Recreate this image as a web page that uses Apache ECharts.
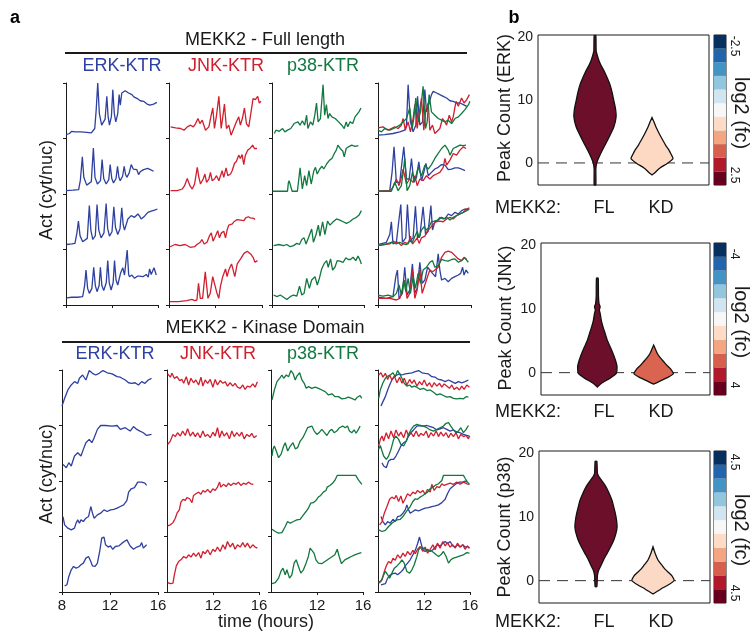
<!DOCTYPE html>
<html>
<head>
<meta charset="utf-8">
<title>MEKK2 KTR traces and peak counts</title>
<script src="https://cdn.jsdelivr.net/npm/echarts@6/dist/echarts.min.js"></script>
<style>
  html, body { margin: 0; background: #fff; }
  #chart { width: 750px; height: 637px; }
</style>
</head>
<body>
<div id="chart"></div>
<script>
// ---------- panel a data: [time (h), activity scaled to its row] ----------
// MEKK2 full length
const flErk = [
  [[8.0,0.07],[8.3,0.09],[8.5,0.13],[8.8,0.12],[9.3,0.12],[9.8,0.11],[10.2,0.10],[10.5,0.18],[10.62,0.5],[10.76,1.0],[10.9,0.45],[11.1,0.24],[11.4,0.35],[11.55,0.76],[11.66,0.4],[11.78,0.24],[11.95,0.4],[12.07,0.88],[12.2,0.45],[12.33,0.3],[12.5,0.45],[12.62,0.79],[12.72,0.6],[12.85,0.82],[13.0,0.8],[13.15,0.86],[13.3,0.83],[13.44,0.82],[13.6,0.8],[13.73,0.79],[13.9,0.75],[14.02,0.73],[14.2,0.72],[14.31,0.7],[14.45,0.68],[14.6,0.65],[14.75,0.67],[14.89,0.66],[15.05,0.62],[15.18,0.62],[15.3,0.6],[15.47,0.59],[15.62,0.62],[15.76,0.62],[15.9,0.65]],
  [[8.0,0.06],[8.6,0.07],[9.1,0.08],[9.25,0.25],[9.42,0.67],[9.55,0.3],[9.8,0.16],[10.2,0.22],[10.38,0.83],[10.52,0.3],[10.73,0.18],[11.0,0.24],[11.14,0.62],[11.28,0.28],[11.49,0.18],[11.72,0.26],[11.84,0.53],[11.98,0.28],[12.13,0.2],[12.35,0.28],[12.48,0.5],[12.6,0.3],[12.71,0.24],[12.92,0.32],[13.06,0.5],[13.18,0.35],[13.29,0.3],[13.5,0.38],[13.67,0.53],[13.85,0.45],[14.02,0.42],[14.15,0.44],[14.31,0.35],[14.45,0.4],[14.6,0.42],[14.75,0.44],[14.89,0.45],[15.1,0.46],[15.33,0.44],[15.62,0.41]],
  [[8.06,0.09],[8.5,0.1],[8.78,0.11],[8.95,0.3],[9.08,0.51],[9.22,0.25],[9.45,0.14],[9.85,0.2],[10.03,0.79],[10.16,0.35],[10.33,0.18],[10.55,0.25],[10.7,0.81],[10.85,0.35],[11.05,0.21],[11.3,0.3],[11.49,0.83],[11.62,0.38],[11.78,0.24],[12.0,0.32],[12.16,0.77],[12.3,0.4],[12.5,0.27],[12.7,0.38],[12.85,0.75],[12.97,0.45],[13.09,0.35],[13.38,0.55],[13.67,0.61],[13.96,0.58],[14.25,0.64],[14.4,0.6],[14.54,0.55],[14.83,0.6],[15.12,0.67],[15.41,0.69],[15.7,0.71],[15.95,0.73]],
  [[8.06,0.13],[8.5,0.14],[9.0,0.14],[9.45,0.15],[9.62,0.35],[9.74,0.63],[9.88,0.3],[10.03,0.21],[10.25,0.3],[10.41,0.68],[10.55,0.35],[10.7,0.24],[10.88,0.35],[10.99,0.68],[11.12,0.35],[11.28,0.26],[11.5,0.4],[11.63,0.8],[11.76,0.4],[11.92,0.27],[12.1,0.4],[12.22,0.8],[12.35,0.45],[12.5,0.36],[12.74,0.57],[12.94,0.67],[13.09,0.54],[13.32,0.99],[13.45,0.55],[13.52,0.51],[13.73,0.54],[13.96,0.48],[14.2,0.52],[14.4,0.52],[14.69,0.51],[14.98,0.55],[15.15,0.5],[15.27,0.65],[15.41,0.55],[15.65,0.67],[15.85,0.54]]
];
const flJnk = [
  [[8.14,0.21],[8.57,0.19],[9.0,0.18],[9.29,0.15],[9.57,0.21],[9.86,0.24],[10.09,0.21],[10.29,0.27],[10.49,0.36],[10.66,0.27],[10.86,0.33],[11.0,0.24],[11.14,0.15],[11.43,0.21],[11.63,0.42],[11.77,0.55],[11.91,0.18],[12.09,0.42],[12.29,0.76],[12.49,0.18],[12.63,0.39],[12.77,0.62],[12.94,0.18],[13.14,0.24],[13.34,0.06],[13.57,0.18],[13.8,0.3],[14.0,0.39],[14.14,0.24],[14.31,0.36],[14.49,0.55],[14.66,0.27],[14.86,0.21],[15.06,0.48],[15.23,0.72],[15.43,0.7],[15.63,0.76],[15.77,0.64],[15.91,0.67]],
  [[8.14,0.06],[8.71,0.06],[9.14,0.09],[9.34,0.15],[9.57,0.28],[9.8,0.15],[10.0,0.09],[10.2,0.18],[10.43,0.48],[10.57,0.3],[10.71,0.18],[10.94,0.27],[11.09,0.36],[11.23,0.21],[11.43,0.27],[11.57,0.39],[11.71,0.24],[11.91,0.27],[12.09,0.33],[12.29,0.24],[12.57,0.42],[12.71,0.3],[12.91,0.47],[13.06,0.33],[13.29,0.36],[13.43,0.42],[13.63,0.55],[13.8,0.59],[14.0,0.7],[14.14,0.64],[14.29,0.71],[14.43,0.53],[14.57,0.7],[14.77,0.79],[15.0,0.83],[15.2,0.88],[15.34,0.82],[15.57,0.82]],
  [[8.09,0.05],[8.52,0.09],[8.95,0.07],[9.39,0.09],[9.82,0.04],[10.2,0.05],[10.4,0.09],[10.69,0.13],[10.83,0.18],[11.03,0.1],[11.27,0.13],[11.47,0.24],[11.64,0.3],[11.79,0.15],[11.99,0.24],[12.19,0.34],[12.34,0.21],[12.51,0.3],[12.71,0.33],[12.86,0.21],[13.0,0.35],[13.14,0.44],[13.29,0.47],[13.45,0.46],[13.58,0.5],[13.72,0.48],[13.87,0.54],[14.0,0.51],[14.16,0.53],[14.3,0.55],[14.45,0.52],[14.59,0.57],[14.7,0.56],[14.82,0.59],[15.0,0.57],[15.17,0.54],[15.3,0.56],[15.4,0.54]],
  [[8.09,0.06],[8.81,0.06],[9.53,0.08],[9.97,0.1],[10.2,0.08],[10.4,0.09],[10.54,0.39],[10.69,0.12],[10.89,0.12],[11.12,0.6],[11.35,0.12],[11.55,0.21],[11.76,0.51],[11.93,0.52],[12.13,0.21],[12.28,0.12],[12.42,0.33],[12.62,0.51],[12.86,0.65],[13.0,0.51],[13.14,0.63],[13.38,0.74],[13.52,0.63],[13.66,0.51],[13.87,0.74],[14.16,0.83],[14.45,0.93],[14.73,0.97],[15.02,0.92],[15.23,0.86],[15.4,0.77],[15.61,0.8]]
];
const flP38 = [
  [[8.2,0.09],[8.34,0.15],[8.63,0.13],[8.92,0.18],[9.12,0.12],[9.35,0.15],[9.63,0.18],[9.92,0.27],[10.06,0.24],[10.26,0.3],[10.44,0.24],[10.64,0.32],[10.84,0.24],[11.01,0.42],[11.12,0.18],[11.35,0.3],[11.55,0.24],[11.72,0.42],[11.87,0.64],[12.01,0.3],[12.21,0.36],[12.44,0.97],[12.58,0.42],[12.73,0.61],[12.87,0.36],[13.01,0.45],[13.21,0.39],[13.5,0.36],[13.79,0.3],[14.07,0.24],[14.28,0.18],[14.45,0.3],[14.59,0.21],[14.79,0.3],[15.02,0.27],[15.22,0.39],[15.36,0.36],[15.56,0.48],[15.74,0.55]],
  [[8.06,0.05],[9.35,0.05],[9.42,0.2],[9.49,0.24],[9.63,0.27],[9.75,0.05],[10.21,0.05],[10.44,0.47],[10.64,0.09],[10.84,0.33],[11.01,0.15],[11.21,0.42],[11.41,0.18],[11.64,0.42],[11.78,0.48],[11.93,0.36],[12.15,0.45],[12.35,0.5],[12.5,0.45],[12.78,0.55],[13.01,0.61],[13.21,0.64],[13.42,0.73],[13.59,0.79],[13.73,0.88],[13.93,0.82],[14.16,0.77],[14.28,0.67],[14.45,0.82],[14.65,0.85],[14.93,0.88],[15.22,0.86],[15.51,0.87]],
  [[8.14,0.07],[8.58,0.09],[9.01,0.07],[9.29,0.09],[9.58,0.05],[9.87,0.07],[10.16,0.11],[10.39,0.09],[10.59,0.18],[10.79,0.21],[10.96,0.1],[11.17,0.21],[11.45,0.37],[11.6,0.13],[11.83,0.27],[12.03,0.44],[12.17,0.24],[12.4,0.5],[12.6,0.27],[12.83,0.51],[13.04,0.44],[13.32,0.5],[13.61,0.55],[13.9,0.53],[14.19,0.5],[14.47,0.47],[14.76,0.5],[15.05,0.55],[15.34,0.58],[15.57,0.62],[15.77,0.7]],
  [[8.14,0.18],[8.43,0.15],[8.72,0.18],[9.01,0.14],[9.29,0.1],[9.58,0.15],[9.87,0.18],[10.16,0.16],[10.39,0.34],[10.59,0.18],[10.79,0.21],[11.02,0.48],[11.25,0.3],[11.45,0.45],[11.74,0.51],[11.94,0.36],[12.12,0.48],[12.32,0.65],[12.52,0.74],[12.75,0.8],[12.89,0.68],[13.09,0.83],[13.27,0.63],[13.47,0.68],[13.67,0.8],[13.9,0.79],[14.19,0.77],[14.42,0.85],[14.62,0.82],[14.82,0.82],[15.05,0.86],[15.28,0.8],[15.48,0.88],[15.63,0.82],[15.77,0.74]]
];
// merged column, same cells, one array per reporter
const flMergeErk = [
  [[8.0,0.06],[8.58,0.07],[9.29,0.09],[9.87,0.12],[10.3,0.15],[10.45,0.24],[10.59,0.97],[10.79,0.3],[11.02,0.12],[11.25,0.24],[11.4,0.76],[11.6,0.24],[11.83,0.3],[12.03,0.88],[12.17,0.48],[12.4,0.64],[12.6,0.79],[12.75,0.85],[13.04,0.82],[13.32,0.79],[13.61,0.76],[13.9,0.73],[14.19,0.68],[14.47,0.67],[14.76,0.64],[15.05,0.64],[15.34,0.61],[15.63,0.58]],
  [[8.0,0.05],[9.01,0.06],[9.21,0.39],[9.38,0.85],[9.58,0.21],[9.87,0.21],[10.01,0.48],[10.22,0.85],[10.45,0.27],[10.68,0.27],[10.88,0.64],[11.08,0.21],[11.31,0.3],[11.51,0.58],[11.74,0.24],[11.94,0.39],[12.12,0.55],[12.32,0.33],[12.6,0.39],[12.89,0.45],[13.18,0.48],[13.47,0.53],[13.76,0.52],[14.04,0.44],[14.33,0.45],[14.62,0.47],[14.91,0.47],[15.19,0.45],[15.48,0.42]],
  [[8.0,0.09],[8.72,0.13],[9.01,0.27],[9.15,0.5],[9.29,0.1],[9.58,0.13],[9.81,0.55],[9.96,0.81],[10.1,0.13],[10.39,0.21],[10.53,0.81],[10.73,0.15],[11.02,0.21],[11.22,0.78],[11.4,0.21],[11.6,0.24],[11.88,0.77],[12.09,0.27],[12.32,0.33],[12.55,0.79],[12.69,0.35],[12.89,0.5],[13.18,0.53],[13.47,0.58],[13.76,0.55],[14.04,0.64],[14.33,0.61],[14.62,0.67],[14.91,0.64],[15.19,0.7],[15.48,0.73],[15.77,0.72]],
  [[8.0,0.14],[8.72,0.12],[9.29,0.15],[9.53,0.51],[9.67,0.63],[9.81,0.12],[10.1,0.21],[10.3,0.68],[10.5,0.18],[10.73,0.27],[10.96,0.74],[11.17,0.21],[11.37,0.3],[11.6,0.77],[11.8,0.39],[12.03,0.45],[12.26,0.68],[12.46,0.63],[12.69,0.57],[12.95,0.51],[13.18,0.92],[13.32,0.63],[13.47,0.45],[13.76,0.48],[14.04,0.42],[14.33,0.48],[14.62,0.51],[14.91,0.54],[15.11,0.57],[15.28,0.68],[15.4,0.54],[15.57,0.63],[15.68,0.65],[15.77,0.57]]
];
const flMergeJnk = [
  [[8.0,0.19],[8.43,0.21],[8.86,0.15],[9.15,0.18],[9.44,0.21],[9.73,0.18],[10.01,0.24],[10.16,0.36],[10.36,0.15],[10.59,0.3],[10.79,0.12],[11.02,0.36],[11.17,0.61],[11.37,0.18],[11.54,0.45],[11.74,0.73],[11.94,0.15],[12.12,0.52],[12.32,0.64],[12.46,0.15],[12.69,0.24],[12.89,0.09],[13.04,0.06],[13.32,0.18],[13.55,0.36],[13.76,0.3],[13.9,0.24],[14.13,0.42],[14.33,0.3],[14.47,0.39],[14.71,0.67],[14.91,0.58],[15.19,0.73],[15.4,0.64],[15.63,0.7],[15.86,0.79]],
  [[8.0,0.05],[9.01,0.06],[9.29,0.12],[9.58,0.27],[9.81,0.15],[10.01,0.3],[10.16,0.45],[10.45,0.18],[10.73,0.27],[11.02,0.21],[11.17,0.33],[11.37,0.15],[11.6,0.27],[11.88,0.24],[12.17,0.33],[12.46,0.27],[12.75,0.33],[13.04,0.36],[13.32,0.39],[13.61,0.48],[13.76,0.64],[13.9,0.52],[14.19,0.61],[14.47,0.73],[14.76,0.7],[15.05,0.79],[15.34,0.85],[15.57,0.82]],
  [[8.0,0.07],[9.01,0.1],[9.29,0.15],[9.53,0.13],[9.73,0.13],[10.01,0.07],[10.3,0.13],[10.59,0.1],[10.79,0.24],[10.96,0.1],[11.17,0.15],[11.37,0.21],[11.54,0.11],[11.74,0.21],[12.03,0.24],[12.23,0.33],[12.46,0.38],[12.69,0.44],[12.98,0.5],[13.32,0.51],[13.61,0.5],[13.9,0.55],[14.19,0.58],[14.47,0.55],[14.76,0.61],[15.05,0.64],[15.34,0.67],[15.63,0.73],[15.86,0.75]],
  [[8.0,0.12],[9.01,0.12],[9.58,0.09],[9.87,0.12],[10.1,0.27],[10.3,0.45],[10.5,0.12],[10.73,0.21],[10.96,0.63],[11.17,0.12],[11.37,0.27],[11.6,0.63],[11.8,0.21],[12.03,0.36],[12.26,0.51],[12.46,0.63],[12.69,0.6],[12.89,0.63],[13.18,0.68],[13.47,0.86],[13.76,0.95],[14.04,0.97],[14.33,0.95],[14.62,0.89],[14.91,0.83],[15.19,0.8],[15.4,0.86],[15.63,0.82]]
];
const flMergeP38 = [
  [[8.0,0.15],[8.29,0.12],[8.58,0.18],[9.01,0.15],[9.44,0.19],[9.87,0.24],[10.16,0.3],[10.45,0.36],[10.73,0.55],[10.94,0.18],[11.08,0.36],[11.25,0.73],[11.45,0.3],[11.65,0.48],[11.88,0.94],[12.09,0.18],[12.23,0.3],[12.4,0.79],[12.6,0.48],[12.89,0.42],[13.18,0.36],[13.47,0.33],[13.76,0.3],[14.04,0.33],[14.33,0.27],[14.62,0.36],[14.91,0.39],[15.19,0.45],[15.48,0.52],[15.78,0.61],[15.91,0.67]],
  [[8.0,0.05],[9.15,0.05],[9.44,0.21],[9.73,0.06],[10.01,0.15],[10.2,0.45],[10.3,0.64],[10.5,0.06],[10.73,0.15],[10.96,0.39],[11.17,0.24],[11.45,0.48],[11.74,0.33],[12.03,0.52],[12.32,0.45],[12.6,0.53],[12.89,0.64],[13.18,0.73],[13.47,0.82],[13.76,0.88],[14.04,0.79],[14.19,0.7],[14.47,0.82],[14.76,0.85],[15.05,0.88],[15.34,0.87],[15.57,0.88]],
  [[8.0,0.07],[8.72,0.1],[9.15,0.13],[9.58,0.1],[9.87,0.13],[10.16,0.1],[10.45,0.09],[10.73,0.15],[10.96,0.13],[11.17,0.24],[11.37,0.33],[11.54,0.21],[11.74,0.35],[11.97,0.41],[12.17,0.35],[12.4,0.41],[12.6,0.5],[12.83,0.51],[13.12,0.53],[13.32,0.58],[13.61,0.55],[13.9,0.58],[14.19,0.53],[14.47,0.58],[14.76,0.61],[15.05,0.64],[15.34,0.67],[15.63,0.7],[15.86,0.73]],
  [[8.0,0.18],[8.43,0.16],[8.86,0.18],[9.29,0.15],[9.58,0.21],[9.81,0.36],[10.01,0.18],[10.22,0.45],[10.39,0.24],[10.59,0.48],[10.79,0.21],[11.02,0.51],[11.22,0.3],[11.45,0.57],[11.65,0.39],[11.88,0.63],[12.17,0.68],[12.46,0.77],[12.69,0.8],[12.89,0.68],[13.18,0.71],[13.47,0.82],[13.76,0.8],[14.04,0.79],[14.33,0.82],[14.62,0.83],[14.91,0.77],[15.19,0.8],[15.48,0.85],[15.77,0.77]]
];

// MEKK2 kinase domain
const kdErk = [
  [[8.0,0.35],[8.22,0.49],[8.49,0.64],[8.77,0.73],[9.04,0.79],[9.31,0.76],[9.45,0.85],[9.72,0.91],[9.99,0.82],[10.27,0.99],[10.54,0.94],[10.81,0.91],[11.09,0.94],[11.42,0.99],[11.77,0.95],[12.18,0.93],[12.59,0.88],[12.86,0.87],[13.27,0.82],[13.55,0.77],[13.82,0.76],[14.09,0.77],[14.37,0.73],[14.64,0.79],[14.91,0.76],[15.19,0.82],[15.46,0.85]],
  [[8.08,0.3],[8.36,0.24],[8.57,0.33],[8.77,0.27],[9.04,0.45],[9.31,0.51],[9.58,0.45],[9.78,0.57],[9.99,0.69],[10.27,0.75],[10.49,0.69],[10.68,0.78],[10.95,0.93],[11.22,1.0],[11.63,1.0],[12.18,0.99],[12.59,1.0],[12.86,0.93],[13.27,0.96],[13.68,0.9],[13.96,0.98],[14.23,0.93],[14.5,0.9],[14.78,0.87],[15.05,0.82],[15.46,0.84]],
  [[8.08,0.36],[8.22,0.21],[8.49,0.15],[8.77,0.12],[9.04,0.15],[9.17,0.24],[9.31,0.3],[9.45,0.24],[9.58,0.3],[9.78,0.27],[9.99,0.33],[10.21,0.36],[10.4,0.54],[10.54,0.42],[10.68,0.33],[10.95,0.39],[11.22,0.42],[11.5,0.48],[11.77,0.45],[12.04,0.48],[12.32,0.49],[12.59,0.51],[12.86,0.54],[13.14,0.57],[13.41,0.65],[13.55,0.8],[13.77,0.86],[14.04,0.88],[14.31,0.98],[14.64,0.98],[14.91,0.96],[15.05,0.92]],
  [[8.22,0.11],[8.41,0.13],[8.57,0.28],[8.77,0.4],[8.96,0.46],[9.17,0.43],[9.39,0.45],[9.58,0.49],[9.78,0.52],[9.99,0.61],[10.21,0.64],[10.4,0.55],[10.54,0.47],[10.76,0.46],[10.95,0.52],[11.14,0.73],[11.31,0.97],[11.5,0.99],[11.63,0.85],[11.85,0.81],[12.04,0.83],[12.23,0.77],[12.45,0.82],[12.73,0.83],[13.0,0.88],[13.41,0.94],[13.68,0.83],[13.96,0.77],[14.23,0.81],[14.5,0.83],[14.64,0.89],[14.78,0.79],[15.05,0.85]]
];
const kdJnk = [
  [[8.06,0.93],[8.29,0.87],[8.43,0.94],[8.64,0.85],[8.87,0.88],[9.1,0.81],[9.3,0.83],[9.45,0.76],[9.68,0.88],[9.88,0.73],[10.08,0.85],[10.31,0.77],[10.51,0.82],[10.75,0.73],[10.95,0.87],[11.12,0.71],[11.32,0.82],[11.53,0.76],[11.76,0.83],[11.99,0.69],[12.19,0.83],[12.39,0.73],[12.62,0.81],[12.86,0.76],[13.06,0.79],[13.26,0.71],[13.49,0.77],[13.72,0.71],[13.92,0.76],[14.13,0.69],[14.36,0.67],[14.59,0.73],[14.79,0.65],[14.99,0.71],[15.23,0.69],[15.46,0.75],[15.66,0.69],[15.86,0.79]],
  [[8.06,0.66],[8.29,0.72],[8.52,0.84],[8.72,0.8],[8.92,0.87],[9.16,0.81],[9.36,0.9],[9.59,0.82],[9.79,0.94],[10.02,0.81],[10.25,0.88],[10.46,0.8],[10.66,0.87],[10.89,0.78],[11.12,0.9],[11.32,0.8],[11.53,0.84],[11.76,0.78],[11.99,0.88],[12.19,0.81],[12.39,0.96],[12.57,0.78],[12.77,0.9],[12.97,0.81],[13.2,0.87],[13.43,0.76],[13.64,0.9],[13.84,0.8],[14.07,0.87],[14.3,0.81],[14.5,0.88],[14.71,0.76],[14.94,0.84],[15.17,0.8],[15.37,0.86],[15.57,0.78],[15.8,0.82]],
  [[8.06,0.19],[8.29,0.21],[8.52,0.25],[8.72,0.33],[8.87,0.42],[9.07,0.48],[9.21,0.62],[9.39,0.67],[9.59,0.65],[9.73,0.7],[9.97,0.68],[10.17,0.61],[10.31,0.74],[10.51,0.77],[10.75,0.8],[10.95,0.76],[11.12,0.83],[11.32,0.8],[11.53,0.85],[11.76,0.79],[11.99,0.86],[12.19,0.83],[12.39,0.89],[12.57,0.98],[12.68,0.89],[12.91,0.94],[13.14,0.9],[13.35,0.96],[13.55,0.92],[13.78,0.96],[14.01,0.94],[14.21,0.98],[14.42,0.92],[14.65,0.96],[14.88,0.94],[15.08,0.98],[15.28,0.95],[15.51,0.94]],
  [[8.06,0.17],[8.29,0.15],[8.52,0.16],[8.64,0.31],[8.81,0.47],[9.01,0.55],[9.21,0.58],[9.45,0.64],[9.68,0.61],[9.88,0.67],[10.08,0.63],[10.31,0.7],[10.51,0.64],[10.75,0.71],[10.95,0.61],[11.12,0.73],[11.32,0.69],[11.53,0.76],[11.76,0.67],[11.99,0.77],[12.19,0.73],[12.39,0.81],[12.62,0.73],[12.86,0.85],[13.06,0.77],[13.26,0.91],[13.49,0.81],[13.72,0.88],[13.92,0.77],[14.13,0.85],[14.36,0.81],[14.59,0.89],[14.79,0.81],[14.99,0.88],[15.23,0.79],[15.46,0.85],[15.66,0.81],[15.86,0.79]]
];
const kdP38 = [
  [[8.09,0.46],[8.29,0.64],[8.52,0.79],[8.75,0.85],[8.95,0.91],[9.1,0.85],[9.33,0.91],[9.53,0.88],[9.73,0.99],[9.91,0.94],[10.11,0.82],[10.25,0.89],[10.49,0.95],[10.69,0.82],[10.89,0.76],[11.06,0.67],[11.27,0.7],[11.55,0.67],[11.84,0.69],[12.13,0.67],[12.42,0.64],[12.71,0.61],[13.0,0.55],[13.29,0.57],[13.58,0.52],[13.87,0.52],[14.16,0.48],[14.45,0.49],[14.73,0.51],[15.02,0.49],[15.31,0.46],[15.51,0.51],[15.75,0.54],[15.89,0.49]],
  [[8.09,0.45],[8.17,0.57],[8.29,0.63],[8.46,0.54],[8.66,0.42],[8.87,0.48],[9.1,0.63],[9.24,0.69],[9.45,0.54],[9.68,0.63],[9.91,0.69],[10.11,0.58],[10.31,0.6],[10.54,0.72],[10.77,0.78],[10.98,0.87],[11.18,0.96],[11.35,0.93],[11.55,0.99],[11.76,0.9],[11.99,0.84],[12.22,0.88],[12.42,0.93],[12.62,0.88],[12.86,0.82],[13.09,0.9],[13.29,0.93],[13.49,0.87],[13.72,0.9],[13.95,0.96],[14.24,0.99],[14.45,0.96],[14.65,0.99],[14.82,0.9],[15.02,0.87],[15.23,0.92],[15.4,0.86],[15.6,0.93],[15.75,0.99]],
  [[8.09,0.13],[8.37,0.09],[8.66,0.06],[8.95,0.07],[9.24,0.18],[9.44,0.27],[9.67,0.24],[9.96,0.27],[10.24,0.3],[10.53,0.31],[10.82,0.39],[11.05,0.45],[11.25,0.51],[11.45,0.6],[11.68,0.61],[11.91,0.65],[12.12,0.71],[12.32,0.74],[12.55,0.8],[12.78,0.83],[12.89,0.89],[13.12,0.92],[13.35,0.96],[13.55,1.01],[13.76,1.1],[14.56,1.1],[15.37,1.1],[15.5,1.07],[15.6,1.02],[15.75,0.98],[15.9,0.94]],
  [[8.09,0.15],[8.37,0.17],[8.66,0.25],[8.86,0.37],[9.04,0.43],[9.24,0.31],[9.38,0.4],[9.61,0.25],[9.81,0.31],[10.01,0.52],[10.19,0.58],[10.39,0.46],[10.59,0.34],[10.82,0.4],[11.05,0.52],[11.25,0.64],[11.4,0.79],[11.54,0.81],[11.74,0.7],[11.91,0.58],[12.12,0.52],[12.4,0.51],[12.69,0.55],[12.98,0.59],[13.27,0.63],[13.55,0.67],[13.76,0.77],[13.93,0.64],[14.13,0.51],[14.42,0.58],[14.71,0.61],[14.99,0.64],[15.28,0.67],[15.57,0.69],[15.86,0.71]]
];
const kdMergeErk = [
  [[8.26,0.35],[8.43,0.43],[8.64,0.52],[8.84,0.64],[9.01,0.73],[9.21,0.82],[9.42,0.88],[9.65,0.91],[9.88,0.93],[10.08,0.91],[10.37,0.93],[10.66,0.94],[10.95,0.95],[11.24,0.97],[11.53,0.99],[11.82,0.95],[12.1,0.94],[12.39,0.93],[12.68,0.88],[12.97,0.87],[13.26,0.83],[13.55,0.82],[13.84,0.79],[14.13,0.82],[14.42,0.79],[14.71,0.76],[14.99,0.79],[15.28,0.77],[15.57,0.79],[15.86,0.82]],
  [[8.35,0.33],[8.49,0.27],[8.72,0.24],[8.92,0.36],[9.13,0.39],[9.36,0.39],[9.56,0.45],[9.79,0.54],[9.99,0.63],[10.23,0.69],[10.46,0.72],[10.66,0.81],[10.86,0.87],[11.09,0.92],[11.38,0.99],[11.67,1.0],[11.96,0.99],[12.25,1.0],[12.54,0.98],[12.83,0.96],[13.12,0.92],[13.4,0.94],[13.69,0.96],[13.98,0.93],[14.27,0.9],[14.56,0.92],[14.85,0.88],[15.14,0.87],[15.43,0.84],[15.72,0.82],[15.95,0.81]],
  [[8.26,0.36],[8.43,0.27],[8.64,0.21],[8.84,0.27],[9.07,0.24],[9.3,0.31],[9.5,0.27],[9.71,0.36],[9.94,0.37],[10.17,0.42],[10.37,0.48],[10.51,0.57],[10.66,0.48],[10.8,0.42],[11.03,0.45],[11.24,0.48],[11.53,0.46],[11.82,0.49],[12.1,0.51],[12.39,0.52],[12.68,0.54],[12.97,0.55],[13.26,0.57],[13.55,0.61],[13.84,0.67],[14.04,0.77],[14.27,0.86],[14.5,0.9],[14.79,0.95],[15.08,0.98],[15.37,0.98],[15.57,1.0],[15.72,0.98]],
  [[8.26,0.13],[8.43,0.1],[8.64,0.15],[8.84,0.25],[9.07,0.31],[9.3,0.33],[9.5,0.34],[9.71,0.31],[9.94,0.35],[10.17,0.4],[10.37,0.47],[10.57,0.52],[10.8,0.58],[11.03,0.67],[11.24,0.75],[11.44,0.87],[11.61,0.99],[11.73,0.89],[11.9,0.76],[12.1,0.73],[12.31,0.77],[12.54,0.73],[12.77,0.76],[12.97,0.81],[13.17,0.85],[13.4,0.83],[13.64,0.88],[13.84,0.91],[14.04,0.87],[14.27,0.91],[14.5,0.83],[14.71,0.81],[14.91,0.85],[15.14,0.81],[15.37,0.85],[15.57,0.81],[15.78,0.82],[15.95,0.79]]
];
const kdMergeJnk = [
  [[8.06,0.91],[8.26,0.95],[8.43,0.87],[8.64,0.94],[8.84,0.83],[9.01,0.91],[9.21,0.82],[9.42,0.89],[9.65,0.77],[9.88,0.87],[10.08,0.76],[10.28,0.85],[10.51,0.73],[10.75,0.83],[10.95,0.76],[11.15,0.82],[11.38,0.71],[11.61,0.79],[11.82,0.73],[12.02,0.82],[12.25,0.71],[12.48,0.77],[12.68,0.69],[12.88,0.77],[13.12,0.71],[13.35,0.76],[13.55,0.69],[13.75,0.75],[13.98,0.71],[14.21,0.67],[14.42,0.73],[14.62,0.65],[14.85,0.69],[15.08,0.64],[15.28,0.71],[15.49,0.65],[15.72,0.73],[15.95,0.69]],
  [[8.06,0.63],[8.2,0.75],[8.35,0.81],[8.49,0.72],[8.72,0.87],[8.92,0.76],[9.13,0.9],[9.36,0.78],[9.56,0.92],[9.79,0.81],[9.99,0.88],[10.23,0.78],[10.46,0.92],[10.66,0.81],[10.86,0.87],[11.09,0.8],[11.32,0.9],[11.53,0.8],[11.73,0.86],[11.96,0.82],[12.19,0.9],[12.39,0.78],[12.6,0.87],[12.83,0.81],[13.06,0.9],[13.26,0.8],[13.46,0.88],[13.69,0.81],[13.92,0.87],[14.13,0.78],[14.33,0.86],[14.56,0.8],[14.79,0.87],[14.99,0.76],[15.2,0.84],[15.43,0.8],[15.66,0.82],[15.86,0.76],[15.98,0.81]],
  [[8.14,0.21],[8.35,0.27],[8.55,0.42],[8.78,0.54],[9.01,0.67],[9.21,0.71],[9.42,0.68],[9.59,0.74],[9.79,0.63],[9.99,0.73],[10.17,0.6],[10.37,0.68],[10.57,0.77],[10.8,0.73],[11.03,0.8],[11.24,0.77],[11.44,0.83],[11.67,0.79],[11.9,0.83],[12.1,0.76],[12.31,0.85],[12.54,0.8],[12.68,0.94],[12.88,0.83],[13.12,0.9],[13.35,0.88],[13.55,0.95],[13.75,0.92],[13.98,0.94],[14.27,0.96],[14.56,0.94],[14.85,0.98],[15.14,0.94],[15.43,0.98],[15.72,0.95],[15.95,0.94]],
  [[8.06,0.17],[8.2,0.15],[8.35,0.22],[8.55,0.37],[8.72,0.47],[8.92,0.55],[9.13,0.52],[9.3,0.61],[9.5,0.57],[9.71,0.67],[9.94,0.61],[10.17,0.7],[10.37,0.64],[10.57,0.73],[10.8,0.67],[11.03,0.75],[11.24,0.69],[11.44,0.77],[11.67,0.82],[11.9,0.73],[12.1,0.81],[12.31,0.7],[12.54,0.77],[12.77,0.85],[12.97,0.76],[13.17,0.88],[13.4,0.79],[13.64,0.91],[13.84,0.83],[14.04,0.89],[14.27,0.81],[14.5,0.85],[14.71,0.79],[14.91,0.88],[15.14,0.81],[15.37,0.85],[15.57,0.77],[15.78,0.83],[15.95,0.79]]
];
const kdMergeP38 = [
  [[8.06,0.49],[8.2,0.64],[8.43,0.77],[8.64,0.85],[8.84,0.89],[9.07,0.91],[9.3,0.95],[9.5,0.88],[9.71,0.99],[9.88,0.93],[10.08,0.85],[10.28,0.76],[10.51,0.71],[10.75,0.73],[10.95,0.69],[11.15,0.71],[11.38,0.69],[11.67,0.65],[11.96,0.67],[12.25,0.63],[12.54,0.64],[12.83,0.6],[13.12,0.55],[13.4,0.57],[13.69,0.54],[13.98,0.51],[14.27,0.52],[14.56,0.49],[14.85,0.48],[15.14,0.49],[15.43,0.48],[15.66,0.52],[15.86,0.51]],
  [[8.06,0.57],[8.2,0.64],[8.35,0.54],[8.49,0.45],[8.72,0.39],[8.92,0.45],[9.13,0.57],[9.36,0.75],[9.56,0.81],[9.79,0.75],[9.99,0.66],[10.23,0.63],[10.46,0.72],[10.66,0.84],[10.86,0.92],[11.09,0.99],[11.38,1.02],[11.67,1.0],[11.96,0.99],[12.25,0.96],[12.54,0.92],[12.83,0.9],[13.12,0.93],[13.4,0.96],[13.69,0.99],[13.92,1.04],[14.13,1.05],[14.33,0.99],[14.56,0.92],[14.79,0.87],[14.99,0.9],[15.2,0.96],[15.43,0.87],[15.66,0.93],[15.86,1.0]],
  [[8.06,0.12],[8.35,0.09],[8.64,0.11],[8.92,0.18],[9.21,0.24],[9.42,0.27],[9.65,0.3],[9.94,0.31],[10.17,0.36],[10.37,0.42],[10.57,0.48],[10.8,0.54],[11.03,0.63],[11.24,0.68],[11.44,0.67],[11.67,0.71],[11.9,0.74],[12.1,0.77],[12.31,0.8],[12.54,0.86],[12.77,0.89],[12.97,0.92],[13.26,0.95],[13.55,1.01],[13.69,1.1],[14.27,1.1],[14.85,1.1],[15.43,1.1],[15.57,1.05],[15.78,0.98],[15.95,0.94]],
  [[8.06,0.16],[8.26,0.19],[8.43,0.28],[8.64,0.37],[8.84,0.31],[9.01,0.25],[9.21,0.34],[9.42,0.43],[9.65,0.47],[9.88,0.52],[10.08,0.58],[10.28,0.52],[10.51,0.37],[10.75,0.34],[10.95,0.4],[11.15,0.49],[11.38,0.64],[11.53,0.76],[11.73,0.81],[11.96,0.79],[12.19,0.76],[12.39,0.73],[12.6,0.75],[12.83,0.71],[13.06,0.67],[13.26,0.64],[13.46,0.67],[13.69,0.73],[13.92,0.64],[14.13,0.52],[14.33,0.58],[14.56,0.61],[14.85,0.63],[15.14,0.65],[15.43,0.67],[15.72,0.71],[15.95,0.7]]
];

// ---------- panel b data: violin outlines as [peak count, half width] ----------
const violinGroups = ['FL', 'KD'];
const erkFl = [[-3.5,0.015],[-1,0.015],[0,0.03],[1.5,0.1],[3.6,0.22],[5.7,0.33],[7.3,0.37],[8.6,0.36],[9.9,0.33],[11.2,0.3],[12.5,0.26],[13.6,0.21],[14.6,0.16],[15.4,0.11],[16.2,0.07],[17.2,0.035],[17.8,0.02],[20.2,0.015]];
const erkKd = [[-1.9,0],[-1.6,0.045],[-1.2,0.09],[-0.8,0.14],[0,0.28],[0.7,0.37],[1.3,0.34],[2.0,0.3],[2.8,0.24],[3.6,0.19],[4.6,0.13],[5.7,0.07],[6.5,0.035],[7.2,0]];
const jnkFl = [[-2.25,0],[-1.7,0.07],[-0.9,0.22],[-0.2,0.33],[0.9,0.35],[1.7,0.33],[2.5,0.3],[4.0,0.23],[5.0,0.18],[6.1,0.14],[7.2,0.1],[8.2,0.07],[9.3,0.05],[9.8,0.035],[10.3,0.05],[10.8,0.03],[12.0,0.02],[14.8,0.015]];
const jnkKd = [[-1.8,0],[-1.3,0.12],[-0.7,0.26],[-0.15,0.35],[0.6,0.3],[1.1,0.24],[1.7,0.18],[2.3,0.12],[3.0,0.065],[3.7,0.03],[4.3,0]];
const p38Fl = [[-0.95,0.015],[0.8,0.025],[1.6,0.045],[2.6,0.1],[3.4,0.14],[4.2,0.19],[5.2,0.25],[6.3,0.31],[7.4,0.35],[8.4,0.37],[9.5,0.36],[10.5,0.34],[11.6,0.31],[12.6,0.28],[13.7,0.23],[14.7,0.175],[15.3,0.13],[15.8,0.09],[16.3,0.05],[16.8,0.025],[18.7,0.015]];
const p38Kd = [[-2.1,0],[-1.7,0.07],[-1.3,0.14],[-0.6,0.28],[0,0.37],[0.8,0.33],[1.3,0.27],[1.8,0.21],[2.5,0.15],[3.2,0.09],[4.2,0.04],[5.3,0]];
const peakTicks = [0, 10, 20];
const cbarSteps = [0, 1, 2, 3, 4, 5, 6, 7, 8, 9, 10];
const cbarEnds = [['-2.5', '2.5'], ['-4', '4'], ['4.5', '4.5']];

// ---------- styling ----------
const FONT = '"Liberation Sans", Arial, Helvetica, sans-serif';
const INK = '#1a1a1a';
const BLUE = '#2e40a0', RED = '#d01f2e', GREEN = '#11783f';
const rdBu = ['#053061', '#2166ac', '#4393c3', '#92c5de', '#d1e5f0', '#f7f7f7', '#fddbc7', '#f4a582', '#d6604d', '#b2182b', '#67001f'];

const chart = echarts.init(document.getElementById('chart'), null, { renderer: 'canvas' });
const grid = [], xAxis = [], yAxis = [], series = [];

// panel a: two blocks of four columns, four stacked cells per column
const blocks = [
  { top: 83, cols: [[66, 92], [169, 93], [272, 92], [378, 93]], labels: false,
    data: [[[flErk, BLUE]], [[flJnk, RED]], [[flP38, GREEN]], [[flMergeErk, BLUE], [flMergeJnk, RED], [flMergeP38, GREEN]]] },
  { top: 370, cols: [[62, 96], [167, 92], [271, 92], [378, 92]], labels: true,
    data: [[[kdErk, BLUE]], [[kdJnk, RED]], [[kdP38, GREEN]], [[kdMergeErk, BLUE], [kdMergeJnk, RED], [kdMergeP38, GREEN]]] }
];
const axisLine = { show: true, lineStyle: { color: INK, width: 1 } };
const axisTick = { show: true, inside: false, length: 3, lineStyle: { color: INK, width: 1 } };

blocks.forEach(b => {
  b.cols.forEach(([left, width], c) => {
    const gi = grid.length;
    grid.push({ left, top: b.top, width, height: 222 });
    xAxis.push({ gridIndex: gi, type: 'value', min: 8, max: 16, interval: 4,
      axisLine, axisTick, splitLine: { show: false },
      axisLabel: { show: b.labels, showMinLabel: c === 0, showMaxLabel: true, fontSize: 15, color: INK, margin: 6, fontFamily: FONT } });
    yAxis.push({ gridIndex: gi, type: 'value', min: 0, max: 4, interval: 1,
      axisLine, axisTick, splitLine: { show: false }, axisLabel: { show: false } });
    b.data[c].forEach(([rows, color]) => {
      rows.forEach((pts, r) => {
        series.push({ type: 'line', xAxisIndex: gi, yAxisIndex: gi, symbol: 'none', silent: true, clip: false,
          data: pts.map(([t, v]) => [t, v + 3 - r]),
          lineStyle: { color, width: 1.3 }, itemStyle: { color } });
      });
    });
  });
});

// panel b: violins + colour bars
const violinPanels = [
  { box: [538, 35, 171, 150], prof: [erkFl, erkKd], fill: ['#6b0f2b', '#fdd8c3'] },
  { box: [541, 243, 169, 152], prof: [jnkFl, jnkKd], fill: ['#6b0f2b', '#d9644f'] },
  { box: [539, 451, 171, 152], prof: [p38Fl, p38Kd], fill: ['#6b0f2b', '#fcd9c5'] }
];

function violinRender(profile, center, fill) {
  return function (params, api) {
    const leftSide = profile.map(([y, hw]) => api.coord([center - hw, y]));
    const rightSide = profile.slice().reverse().map(([y, hw]) => api.coord([center + hw, y]));
    return { type: 'polygon', shape: { points: leftSide.concat(rightSide), smooth: 0.15 },
      style: { fill, stroke: '#111', lineWidth: 1.3 } };
  };
}

violinPanels.forEach((p, k) => {
  const [left, top, width, height] = p.box;
  const gi = grid.length;
  grid.push({ left, top, width, height, show: true, borderColor: INK, borderWidth: 1, backgroundColor: 'transparent' });
  xAxis.push({ gridIndex: gi, type: 'value', min: 0, max: 3, show: false });
  yAxis.push({ gridIndex: gi, type: 'value', min: -3.5, max: 20.3,
    axisLine: { show: false }, axisTick: { show: false }, splitLine: { show: false },
    axisLabel: { customValues: peakTicks, fontSize: 14, color: INK, margin: 5, fontFamily: FONT } });
  series.push({ type: 'line', xAxisIndex: gi, yAxisIndex: gi, symbol: 'none', silent: true, z: 1,
    data: [[0, 0], [3, 0]], lineStyle: { color: '#333', width: 1, type: [11, 7] } });
  violinGroups.forEach((g, j) => {
    series.push({ type: 'custom', name: g, xAxisIndex: gi, yAxisIndex: gi, z: 3, silent: true,
      data: [[j + 1, 0]], renderItem: violinRender(p.prof[j], j + 1, p.fill[j]) });
  });

  const ci = grid.length;
  grid.push({ left: 714, top, width: 12, height, show: true, borderColor: INK, borderWidth: 1 });
  xAxis.push({ gridIndex: ci, type: 'value', min: 0, max: 1, show: false });
  yAxis.push({ gridIndex: ci, type: 'category', data: cbarSteps, show: false });
  series.push({ type: 'bar', xAxisIndex: ci, yAxisIndex: ci, barWidth: '100%', silent: true,
    data: cbarSteps.map(s => ({ value: 1, itemStyle: { color: rdBu[10 - s] } })) });
});

// text and rules
function txt(x, y, text, size, fill, rot, align, weight) {
  return { type: 'text', x, y, rotation: rot || 0, silent: true, z: 10,
    style: { text, fill: fill || INK, font: `${weight || 'normal'} ${size}px ${FONT}`,
      align: align || 'center', verticalAlign: 'middle', textAlign: align || 'center', textVerticalAlign: 'middle' } };
}
function rule(x1, x2, y) {
  return { type: 'line', silent: true, shape: { x1, y1: y, x2, y2: y }, style: { stroke: INK, lineWidth: 2 } };
}
const UP = Math.PI / 2, DOWN = -Math.PI / 2;
const graphic = [
  txt(15, 18, 'a', 18, '#000', 0, 'center', 'bold'),
  txt(514, 18, 'b', 18, '#000', 0, 'center', 'bold'),
  txt(265, 40, 'MEKK2 - Full length', 18),
  rule(65, 467, 53),
  txt(122, 66, 'ERK-KTR', 18, BLUE), txt(226, 66, 'JNK-KTR', 18, RED), txt(323, 66, 'p38-KTR', 18, GREEN),
  txt(265, 328, 'MEKK2 - Kinase Domain', 18),
  rule(62, 470, 342),
  txt(115, 354, 'ERK-KTR', 18, BLUE), txt(218, 354, 'JNK-KTR', 18, RED), txt(323, 354, 'p38-KTR', 18, GREEN),
  txt(47, 190, 'Act (cyt/nuc)', 18, INK, UP),
  txt(47, 474, 'Act (cyt/nuc)', 18, INK, UP),
  txt(266, 622, 'time (hours)', 18),
  txt(505, 108, 'Peak Count (ERK)', 18, INK, UP),
  txt(506, 318, 'Peak Count (JNK)', 18, INK, UP),
  txt(505, 527, 'Peak Count (p38)', 18, INK, UP)
];
[208, 412, 622].forEach(y => {
  graphic.push(txt(495, y, 'MEKK2:', 18, INK, 0, 'left'));
  graphic.push(txt(604, y, violinGroups[0], 18));
  graphic.push(txt(661, y, violinGroups[1], 18));
});
violinPanels.forEach((p, k) => {
  const top = p.box[1], h = p.box[3];
  graphic.push(txt(734, top + 11, cbarEnds[k][0], 12, INK, DOWN));
  graphic.push(txt(734, top + h - 10, cbarEnds[k][1], 12, INK, DOWN));
  graphic.push(txt(741, top + h / 2 + 3, 'log2 (fc)', 20, INK, DOWN));
});

chart.setOption({
  animation: false,
  backgroundColor: '#fff',
  textStyle: { fontFamily: FONT },
  grid, xAxis, yAxis, series, graphic
});
</script>
</body>
</html>
